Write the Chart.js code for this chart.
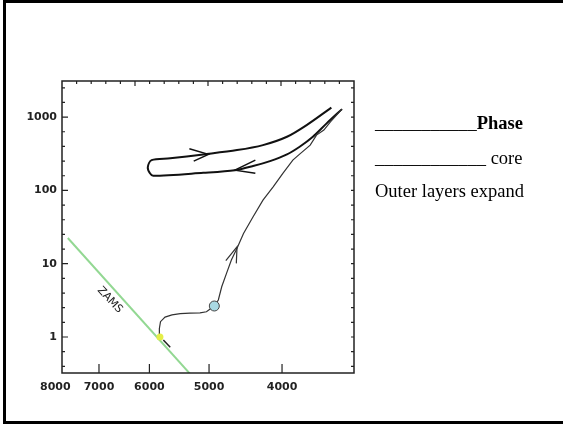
<!DOCTYPE html>
<html>
<head>
<meta charset="utf-8">
<script src="https://cdn.jsdelivr.net/npm/chart.js@4/dist/chart.umd.min.js"></script>
<style>
  html, body { margin: 0; padding: 0; background: #fff; overflow: hidden; }
  body { width: 563px; height: 424px; position: relative; }
  #frame { position: absolute; left: 3px; top: 0; width: 600px; height: 424px;
           box-sizing: border-box; border: 3px solid #000; border-right: none; }
  #c { position: absolute; left: 0; top: 0; }
  .note { position: absolute; left: 375px; font-family: "Liberation Serif", "Times New Roman", serif;
          font-size: 18.5px; line-height: 1; white-space: pre; color: #000; }
</style>
</head>
<body>
<div id="frame"></div>
<canvas id="c" width="563" height="424"></canvas>
<div class="note" style="top:114px">___________<b>Phase</b></div>
<div class="note" style="top:148.5px">____________ core</div>
<div class="note" style="top:181.5px">Outer layers expand</div>
<script>
// axis ticks
var xTickValues = [8000, 7000, 6000, 5000, 4000];
var xTickLabels = ['8000', '7000', '6000', '5000', '4000'];
var yTickValues = [1, 10, 100, 1000];
var yTickLabels = ['1', '10', '100', '1000'];

// main sequence line
var zamsTemp = [7700, 5000];
var zamsLum = [22.4, 0.162];
var zamsMarkTemp = [5750, 5630];
var zamsMarkLum = [0.91, 0.724];

// track up the red giant branch (thin line)
var trackTemp = [5810, 5820, 5800, 5720, 5600, 5460, 5300, 5140, 5040, 4920, 4860, 4810, 4740, 4670,
  4590, 4500, 4370, 4240, 4110, 3990, 3870, 3790, 3670, 3600, 3520, 3450, 3330];
var trackLum = [1.0, 1.31, 1.62, 1.87, 2.0, 2.08, 2.12, 2.14, 2.21, 2.65, 3.2, 4.85, 7.39, 11.2,
  16.2, 25.9, 43.7, 73.8, 112, 171, 259, 313, 415, 568, 665, 863, 1285];

// helium burning loop (thick line)
var loopTemp = [3330, 3490, 3640, 3790, 3940, 4150, 4370, 4620, 5090, 5930, 5990, 6030, 5960, 5630,
  5090, 4590, 4240, 3940, 3710, 3440];
var loopLum = [1285, 821, 539, 394, 310, 251, 215, 189, 174, 158, 171, 206, 259, 274,
  310, 355, 415, 539, 778, 1348];

// arrow heads
var upArrowTemp = [4750, 4590, 4600];
var upArrowLum = [11.0, 17.0, 10.1];
var rightArrowTemp = [5310, 5010, 5240];
var rightArrowLum = [370, 310, 251];
var leftArrowTemp = [4340, 4620, 4340];
var leftArrowLum = [259, 189, 171];

// marked points
var startTemp = [5810];
var startLum = [1.0];
var subgiantTemp = [4920];
var subgiantLum = [2.65];

// label on the ZAMS line
var zamsLabel = 'ZAMS';
var zamsLabelTemp = 6770;
var zamsLabelLum = 3.2;

function pts(xs, ys) {
  return xs.map(function (x, i) { return { x: x, y: ys[i] }; });
}

function lineSet(xs, ys, color, width, tension) {
  return {
    data: pts(xs, ys),
    borderColor: color,
    borderWidth: width,
    pointRadius: 0,
    fill: false,
    tension: tension || 0
  };
}

// box, inward tick marks and the ZAMS label
var framePlugin = {
  id: 'framePlugin',
  afterDraw: function (chart) {
    var ctx = chart.ctx;
    var a = chart.chartArea;
    var xs = chart.scales.x;
    var ys = chart.scales.y;
    ctx.save();
    ctx.strokeStyle = '#222';
    ctx.lineWidth = 1.5;
    ctx.strokeRect(a.left, a.top, a.right - a.left, a.bottom - a.top);

    ctx.lineWidth = 1.2;
    ctx.beginPath();
    // top: evenly spaced small ticks
    for (var k = 1; k < 20; k++) {
      var tx = a.left + k * (a.right - a.left) / 20;
      ctx.moveTo(tx, a.top);
      ctx.lineTo(tx, a.top + (k % 5 === 0 ? 5 : 3));
    }
    // left / right minor ticks every 0.2 decade
    for (var e = -4; e <= 34; e += 2) {
      var py = ys.getPixelForValue(Math.pow(10, e / 10));
      if (py <= a.top + 1 || py >= a.bottom - 1) continue;
      ctx.moveTo(a.left, py);
      ctx.lineTo(a.left + 3, py);
      ctx.moveTo(a.right, py);
      ctx.lineTo(a.right - 3, py);
    }
    // left major ticks
    yTickValues.forEach(function (v) {
      var py = ys.getPixelForValue(v);
      ctx.moveTo(a.left, py);
      ctx.lineTo(a.left + 6, py);
    });
    // bottom major ticks
    xTickValues.forEach(function (v) {
      var px = xs.getPixelForValue(v);
      if (px <= a.left + 1 || px >= a.right - 1) return;
      ctx.moveTo(px, a.bottom);
      ctx.lineTo(px, a.bottom - 9);
    });
    ctx.stroke();

    // rotated label along ZAMS
    var lx = xs.getPixelForValue(zamsLabelTemp);
    var ly = ys.getPixelForValue(zamsLabelLum);
    ctx.translate(lx, ly);
    ctx.rotate(47 * Math.PI / 180);
    ctx.fillStyle = '#222';
    ctx.font = '11px "DejaVu Sans"';
    ctx.textAlign = 'center';
    ctx.textBaseline = 'middle';
    ctx.fillText(zamsLabel, 0, 0);
    ctx.restore();
  }
};

var tickFont = { family: 'DejaVu Sans', size: 11, weight: 'bold' };

var startDot = {
  data: pts(startTemp, startLum),
  showLine: false,
  pointRadius: 3.5,
  pointBackgroundColor: '#e4ee48',
  pointBorderWidth: 0
};
var subgiantDot = {
  data: pts(subgiantTemp, subgiantLum),
  showLine: false,
  pointRadius: 5,
  pointBackgroundColor: '#a9d9e3',
  pointBorderColor: '#444',
  pointBorderWidth: 1
};

new Chart(document.getElementById('c'), {
  type: 'line',
  data: {
    datasets: [
      startDot,
      subgiantDot,
      lineSet(zamsMarkTemp, zamsMarkLum, '#222', 1.5),
      lineSet(upArrowTemp, upArrowLum, '#333', 1.2),
      lineSet(rightArrowTemp, rightArrowLum, '#111', 1.5),
      lineSet(leftArrowTemp, leftArrowLum, '#111', 1.5),
      lineSet(trackTemp, trackLum, '#333', 1.2),
      lineSet(loopTemp, loopLum, '#111', 2, 0.3),
      lineSet(zamsTemp, zamsLum, '#93d893', 2)
    ]
  },
  options: {
    responsive: false,
    animation: false,
    devicePixelRatio: 1,
    layout: { padding: { left: 0, top: 81, right: 209, bottom: 0 } },
    plugins: { legend: { display: false }, tooltip: { enabled: false } },
    scales: {
      x: {
        type: 'logarithmic',
        reverse: true,
        bounds: 'data',
        min: 3210,
        max: 7838,
        grid: { display: false, drawTicks: false },
        border: { display: false },
        afterBuildTicks: function (scale) {
          scale.ticks = xTickValues.map(function (v) { return { value: v }; });
        },
        afterFit: function (scale) { scale.height = 51; },
        ticks: {
          autoSkip: false,
          maxRotation: 0,
          padding: 8,
          color: '#222',
          font: tickFont,
          callback: function (v, i) { return xTickLabels[i]; }
        }
      },
      y: {
        type: 'logarithmic',
        bounds: 'data',
        min: 0.323,
        max: 3108,
        grid: { display: false, drawTicks: false },
        border: { display: false },
        afterBuildTicks: function (scale) {
          scale.ticks = yTickValues.map(function (v) { return { value: v }; });
        },
        afterFit: function (scale) { scale.width = 62; },
        ticks: {
          autoSkip: false,
          padding: 5,
          color: '#222',
          font: tickFont,
          callback: function (v, i) { return yTickLabels[i]; }
        }
      }
    }
  },
  plugins: [framePlugin]
});
</script>
</body>
</html>
